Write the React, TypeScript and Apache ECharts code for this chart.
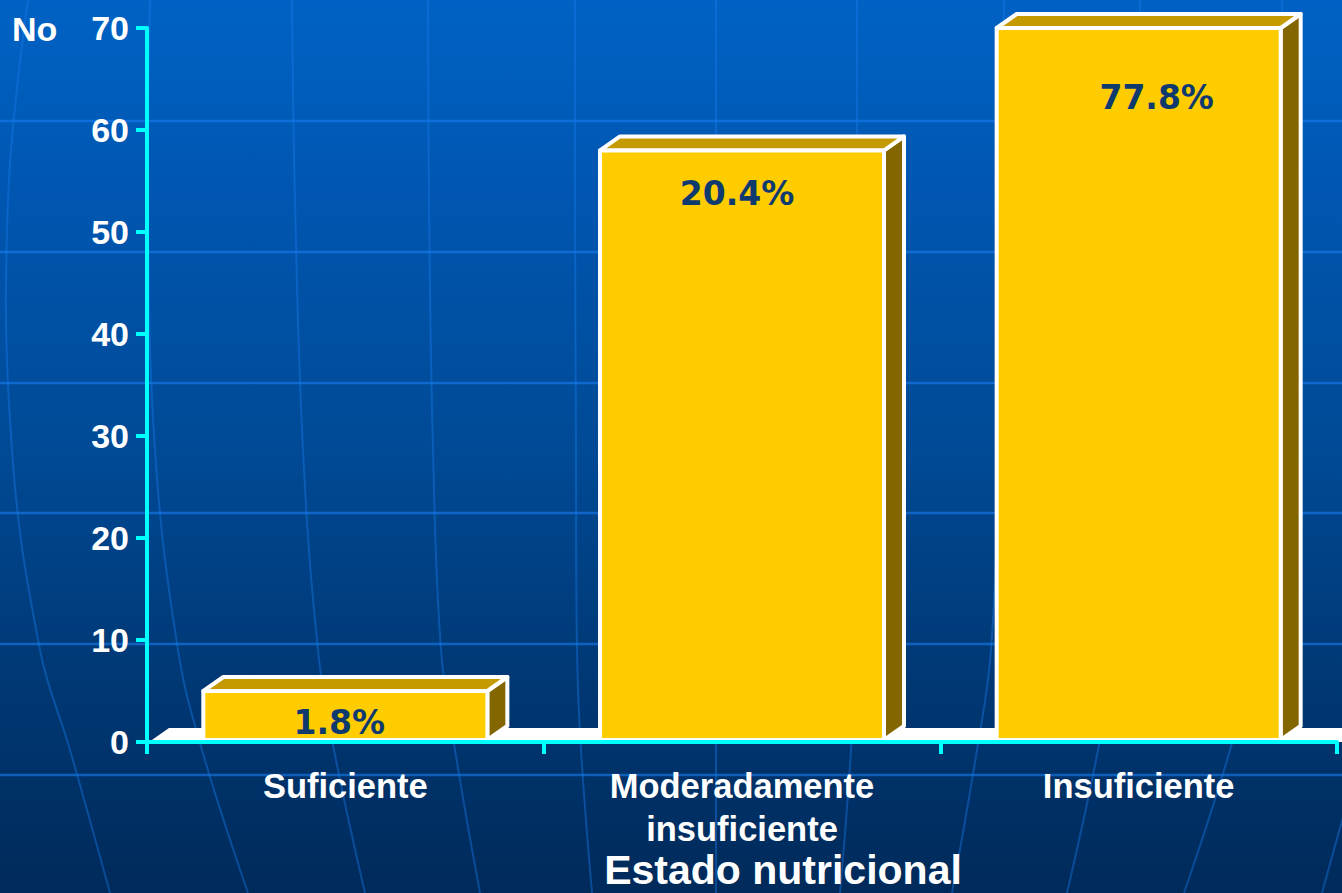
import React, { useEffect, useRef } from "react";
import * as echarts from "echarts";

// ---------- data ----------
const categories = ["Suficiente", "Moderadamente\ninsuficiente", "Insuficiente"];
const counts = [5, 58, 70];
const percentLabels = ["1.8%", "20.4%", "77.8%"];
const yMin = 0;
const yMax = 70;
const yInterval = 10;
const yAxisTitle = "No";
const xAxisTitle = "Estado nutricional";

// ---------- layout / style ----------
const DX = 20;
const DY = 14;
const BAR_RATIO = 0.716;
const labelOffsets = [
  [-6, 31],
  [-5, 43],
  [18, 69],
];
const CYAN = "#00FFFF";
const FONT = '"Liberation Sans", Arial, sans-serif';

// background globe decoration (x positions at given heights)
const merY = [0, 200, 450, 650, 750, 893];
const leftMeridians = [
  [28, 8, 12, 40, 70, 110],
  [150, 148, 155, 178, 202, 248],
  [292, 295, 303, 318, 334, 365],
  [428, 429, 433, 441, 455, 480],
  [575, 575, 576, 577, 581, 592],
];
const parallelsY = [121, 252, 383, 513, 644, 775];
const CENTER_X = 716;

function buildDecor() {
  const els: any[] = [];
  parallelsY.forEach((y) => {
    els.push({
      type: "line",
      z: -10,
      silent: true,
      shape: { x1: 0, y1: y, x2: 1342, y2: y },
      style: { stroke: "rgba(25,125,240,0.6)", lineWidth: 2.5 },
    });
  });
  const mk = (xs: number[]) =>
    els.push({
      type: "polyline",
      z: -10,
      silent: true,
      shape: { points: xs.map((x, i) => [x, merY[i]]), smooth: 0.4 },
      style: { stroke: "rgba(25,125,240,0.4)", lineWidth: 2, fill: null },
    });
  leftMeridians.forEach((xs) => {
    mk(xs);
    mk(xs.map((x) => 2 * CENTER_X - x));
  });
  mk(merY.map(() => CENTER_X));
  return els;
}

export default function App() {
  const ref = useRef<HTMLDivElement>(null);

  useEffect(() => {
    document.body.style.margin = "0";
    if (!ref.current) return;
    const chart = echarts.init(ref.current, null, { renderer: "svg" });

    const option: any = {
      animation: false,
      backgroundColor: "transparent",
      grid: { left: 147, right: 5, top: 28, bottom: 151, containLabel: false },
      xAxis: {
        type: "category",
        data: categories,
        z: 10,
        axisLine: { show: true, lineStyle: { color: CYAN, width: 4 } },
        axisTick: { show: true, length: 12, lineStyle: { color: CYAN, width: 4 } },
        axisLabel: {
          color: "#ffffff",
          fontFamily: FONT,
          fontWeight: "bold",
          fontSize: 34.5,
          lineHeight: 43,
          margin: 22,
          interval: 0,
        },
        splitLine: { show: false },
      },
      yAxis: {
        type: "value",
        min: yMin,
        max: yMax,
        interval: yInterval,
        z: 10,
        axisLine: { show: true, lineStyle: { color: CYAN, width: 4 } },
        axisTick: { show: true, length: 11, lineStyle: { color: CYAN, width: 4 } },
        axisLabel: {
          color: "#ffffff",
          fontFamily: FONT,
          fontWeight: "bold",
          fontSize: 34,
          margin: 18,
        },
        splitLine: { show: false },
      },
      graphic: [
        ...buildDecor(),
        {
          type: "text",
          x: 12,
          y: 29,
          z: 20,
          style: {
            text: yAxisTitle,
            fill: "#ffffff",
            font: `bold 34px ${FONT}`,
            textAlign: "left",
            textVerticalAlign: "middle",
          },
        },
        {
          type: "text",
          x: 783,
          y: 870,
          z: 20,
          style: {
            text: xAxisTitle,
            fill: "#ffffff",
            font: `bold 41px ${FONT}`,
            textAlign: "center",
            textVerticalAlign: "middle",
          },
        },
      ],
      series: [
        {
          type: "custom",
          name: "floor",
          z: 1,
          silent: true,
          data: [[0, 0]],
          encode: { x: 0, y: 1 },
          renderItem: (params: any, api: any) => {
            const cs = params.coordSys;
            const yb = cs.y + cs.height;
            const xr = cs.x + cs.width + DX + 10;
            return {
              type: "polygon",
              shape: {
                points: [
                  [cs.x + 2, yb],
                  [xr, yb],
                  [xr, yb - DY],
                  [cs.x + 2 + DX, yb - DY],
                ],
              },
              style: { fill: "#ffffff" },
            };
          },
        },
        {
          type: "custom",
          name: "No",
          z: 2,
          data: counts.map((v, i) => [i, v]),
          encode: { x: 0, y: 1 },
          renderItem: (params: any, api: any) => {
            const idx = api.value(0);
            const v = api.value(1);
            const top = api.coord([idx, v]);
            const base = api.coord([idx, 0]);
            const band = api.size([1, 0])[0];
            const w = band * BAR_RATIO;
            const xl = top[0] - w / 2;
            const xr = top[0] + w / 2;
            const yt = top[1];
            const yb = base[1] - 2;
            const st = { stroke: "#ffffff", lineWidth: 4, lineJoin: "round" };
            const off = labelOffsets[params.dataIndex] || [0, 30];
            return {
              type: "group",
              children: [
                {
                  type: "polygon",
                  shape: {
                    points: [
                      [xr, yt],
                      [xr + DX, yt - DY],
                      [xr + DX, yb - DY],
                      [xr, yb],
                    ],
                  },
                  style: { fill: "#836600", ...st },
                },
                {
                  type: "polygon",
                  shape: {
                    points: [
                      [xl, yt],
                      [xl + DX, yt - DY],
                      [xr + DX, yt - DY],
                      [xr, yt],
                    ],
                  },
                  style: { fill: "#C49A00", ...st },
                },
                {
                  type: "rect",
                  shape: { x: xl, y: yt, width: w, height: yb - yt },
                  style: { fill: "#FFCC00", ...st },
                },
                {
                  type: "text",
                  x: top[0] + off[0],
                  y: yt + off[1],
                  style: {
                    text: percentLabels[params.dataIndex],
                    fill: "#0f3a6e",
                    font: `bold 33px "DejaVu Sans", Verdana, sans-serif`,
                    textAlign: "center",
                    textVerticalAlign: "middle",
                  },
                },
              ],
            };
          },
        },
      ],
    };

    chart.setOption(option);
    return () => chart.dispose();
  }, []);

  return (
    <div
      style={{
        position: "fixed",
        left: 0,
        top: 0,
        width: 1342,
        height: 893,
        background:
          "linear-gradient(to bottom, #0062c4 0%, #0056b0 22%, #004a96 50%, #003a78 73%, #002a5a 100%)",
      }}
    >
      <div ref={ref} style={{ width: 1342, height: 893 }} />
    </div>
  );
}
